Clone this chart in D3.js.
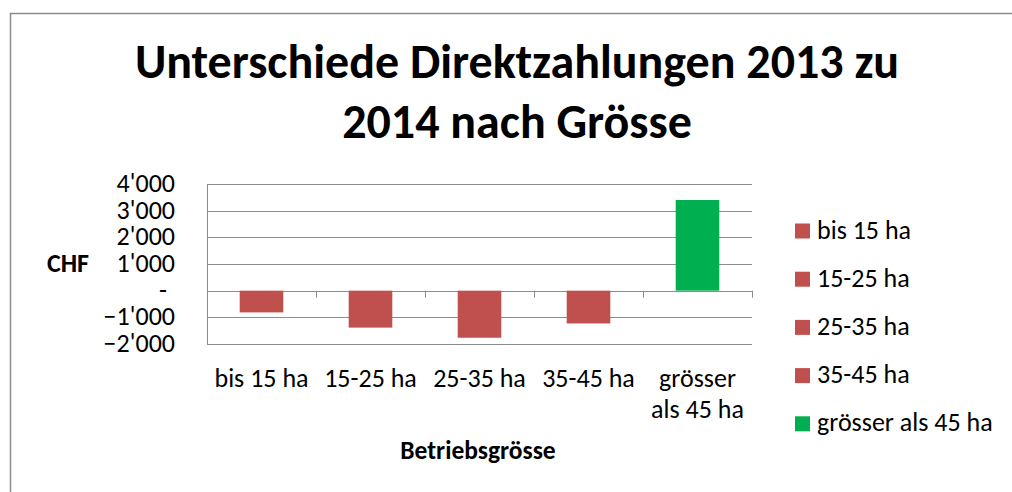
<!DOCTYPE html>
<html lang="de">
<head>
<meta charset="UTF-8">
<title>Unterschiede Direktzahlungen</title>
<script src="https://d3js.org/d3.v7.min.js"></script>
<style>
  body { margin: 0; background: #fff; overflow: hidden; }
  svg { display: block; }
  text { font-family: Carlito, Lato, "Open Sans", sans-serif; fill: #000; }
  .grid line { stroke: #8c8c8c; stroke-width: 1; }
</style>
</head>
<body>
<script>
  // data
  const categories = ["bis 15 ha", "15-25 ha", "25-35 ha", "35-45 ha", "grösser als 45 ha"];
  const catLabels = [["bis 15 ha"], ["15-25 ha"], ["25-35 ha"], ["35-45 ha"], ["grösser", "als 45 ha"]];
  const values = [-815, -1385, -1765, -1230, 3400];
  const colors = ["#c0504d", "#c0504d", "#c0504d", "#c0504d", "#00b050"];
  const yTicks = [-2000, -1000, 0, 1000, 2000, 3000, 4000];

  const W = 1012, H = 492;
  const plot = { left: 207, right: 752, top: 184, bottom: 344 };

  const svg = d3.select("body").append("svg")
    .attr("width", W).attr("height", H);

  // chart frame (runs off the right and bottom edge)
  svg.append("rect")
    .attr("x", 10.5).attr("y", 13.5)
    .attr("width", W + 20).attr("height", H + 20)
    .attr("fill", "none").attr("stroke", "#8c8c8c").attr("stroke-width", 1.5);

  // title
  const title = svg.append("text")
    .attr("text-anchor", "middle")
    .style("font-size", "48px").style("font-weight", "bold");
  title.append("tspan").attr("x", 517).attr("y", 78).text("Unterschiede Direktzahlungen 2013 zu");
  title.append("tspan").attr("x", 517).attr("y", 138).text("2014 nach Grösse");

  const x = d3.scaleBand().domain(categories).range([plot.left, plot.right]);
  const y = d3.scaleLinear().domain([-2000, 4000]).range([plot.bottom, plot.top]);

  // horizontal gridlines
  svg.append("g").attr("class", "grid")
    .selectAll("line").data(yTicks).join("line")
    .attr("x1", plot.left).attr("x2", plot.right)
    .attr("y1", d => Math.round(y(d)) + 0.5).attr("y2", d => Math.round(y(d)) + 0.5);

  // vertical axis line
  svg.append("line")
    .attr("x1", plot.left + 0.5).attr("x2", plot.left + 0.5)
    .attr("y1", plot.top).attr("y2", plot.bottom)
    .attr("stroke", "#8c8c8c");

  // y tick labels
  const fmt = d => d === 0 ? "-" : d3.format(",")(d).replace(/,/g, "'");
  svg.append("g").selectAll("text").data(yTicks).join("text")
    .attr("x", d => d === 0 ? 167 : 175)
    .attr("y", d => y(d) + 8)
    .attr("text-anchor", "end")
    .style("font-size", "26px")
    .text(fmt);

  // bars
  const bw = x.bandwidth() * 0.4;
  svg.append("g").selectAll("rect").data(values).join("rect")
    .attr("x", (d, i) => x(categories[i]) + (x.bandwidth() - bw) / 2)
    .attr("width", bw)
    .attr("y", d => y(Math.max(0, d)))
    .attr("height", d => Math.abs(y(d) - y(0)))
    .attr("fill", (d, i) => colors[i]);

  // category boundary ticks on the zero line
  const bounds = categories.map(c => x(c)).concat([plot.right]);
  svg.append("g").selectAll("line").data(bounds).join("line")
    .attr("x1", d => Math.round(d) + 0.5).attr("x2", d => Math.round(d) + 0.5)
    .attr("y1", y(0)).attr("y2", y(0) + 7)
    .attr("stroke", "#8c8c8c");

  // category labels
  const cl = svg.append("g").selectAll("text").data(catLabels).join("text")
    .attr("text-anchor", "middle")
    .style("font-size", "26px");
  cl.each(function (lines, i) {
    const cx = x(categories[i]) + x.bandwidth() / 2;
    d3.select(this).selectAll("tspan").data(lines).join("tspan")
      .attr("x", cx)
      .attr("y", (d, j) => 387 + j * 31)
      .text(d => d);
  });

  // axis titles
  svg.append("text")
    .attr("x", 478).attr("y", 459)
    .attr("text-anchor", "middle")
    .style("font-size", "25.5px").style("font-weight", "bold")
    .text("Betriebsgrösse");
  svg.append("text")
    .attr("x", 68).attr("y", 272)
    .attr("text-anchor", "middle")
    .style("font-size", "26px").style("font-weight", "bold")
    .text("CHF");

  // legend
  const lg = svg.append("g").selectAll("g").data(categories).join("g")
    .attr("transform", (d, i) => `translate(795,${231 + i * 48.2})`);
  lg.append("rect")
    .attr("x", 0).attr("y", -7.5).attr("width", 15).attr("height", 15)
    .attr("fill", (d, i) => colors[i]);
  lg.append("text")
    .attr("x", 22).attr("y", 7.5)
    .style("font-size", "26px")
    .text(d => d);
</script>
</body>
</html>
